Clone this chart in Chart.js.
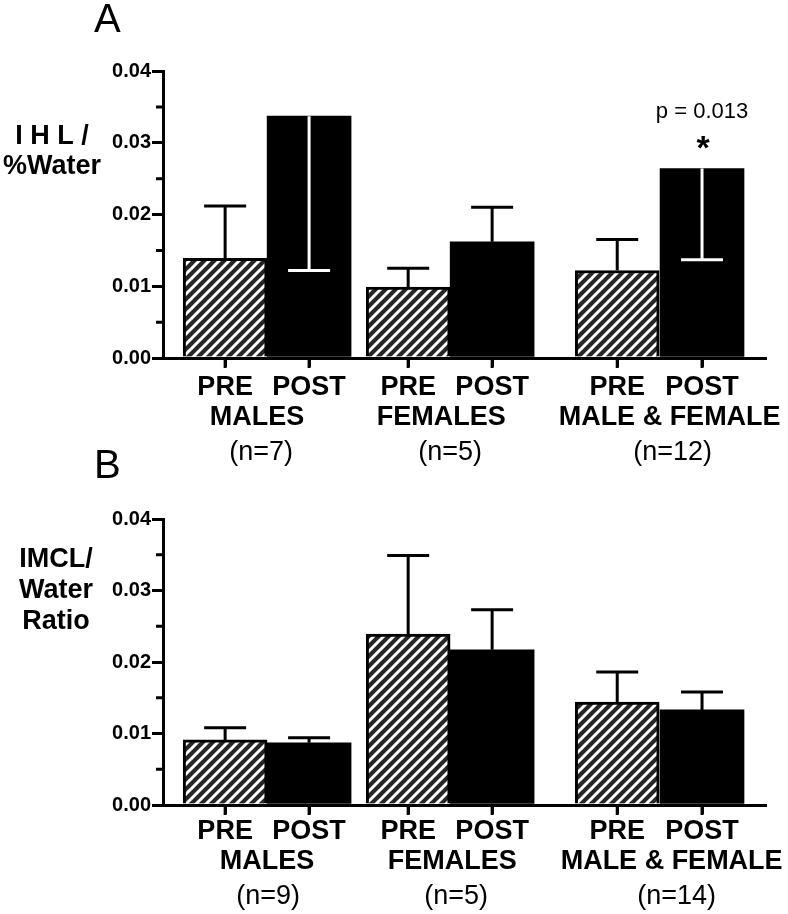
<!DOCTYPE html>
<html>
<head>
<meta charset="utf-8">
<script src="https://cdn.jsdelivr.net/npm/chart.js@4.4.0/dist/chart.umd.min.js"></script>
<style>
  body { margin: 0; background: #fff; }
  .panel { position: absolute; left: 0; width: 788px; }
  #panelA { top: 0; height: 480px; }
  #panelB { top: 440px; height: 474px; }
</style>
</head>
<body>
<div class="panel" id="panelA"><canvas id="chartA"></canvas></div>
<div class="panel" id="panelB"><canvas id="chartB"></canvas></div>
<script>
// Categories
const groups = ['MALES', 'FEMALES', 'MALE & FEMALE'];
const phases = ['PRE', 'POST'];

// Panel A: IHL / %Water
const nA = ['(n=7)', '(n=5)', '(n=12)'];
const preA = [0.0139, 0.0099, 0.0122];
const preErrA = [0.0073, 0.0026, 0.0043];
const postA = [0.0337, 0.0162, 0.0264];
const postErrA = [0.0215, 0.0048, 0.0127];
const postErrDirA = ['down', 'up', 'down'];

// Panel B: IMCL / Water ratio
const nB = ['(n=9)', '(n=5)', '(n=14)'];
const preB = [0.0091, 0.0239, 0.0144];
const preErrB = [0.0017, 0.0110, 0.0042];
const postB = [0.0087, 0.0217, 0.0133];
const postErrB = [0.0007, 0.0056, 0.0025];

// y axis ticks
const yTicks = [0, 0.01, 0.02, 0.03, 0.04];
const yMinorTicks = [0.005, 0.015, 0.025, 0.035];

// layout: bar slots on the x axis (1 unit = one bar width)
const slotPre = [0, 2.18, 4.67];
const slotPost = [1, 3.18, 5.68];
const slots = [0, 1, 2.18, 3.18, 4.67, 5.68];
const FONT = '"Liberation Sans", Arial, Helvetica, sans-serif';

function makeHatch(ctx) {
    const tile = document.createElement('canvas');
    tile.width = 10;
    tile.height = 10;
    const g = tile.getContext('2d');
    g.fillStyle = '#262626';
    g.fillRect(0, 0, 10, 10);
    g.strokeStyle = '#fff';
    g.lineWidth = 3;
    g.beginPath();
    g.moveTo(0, 10); g.lineTo(10, 0);
    g.moveTo(-5, 5); g.lineTo(5, -5);
    g.moveTo(5, 15); g.lineTo(15, 5);
    g.stroke();
    return ctx.createPattern(tile, 'repeat');
}

// Error bars (white ones point down into the black bars)
const errorBars = {
    id: 'errorBars',
    afterDatasetsDraw(chart) {
        const ctx = chart.ctx;
        const y = chart.scales.y;
        chart.data.datasets.forEach((ds, di) => {
            const meta = chart.getDatasetMeta(di);
            meta.data.forEach((bar, i) => {
                const v = ds.data[i].y;
                const down = ds.errDir[i] === 'down';
                const yTop = y.getPixelForValue(v);
                const yEnd = y.getPixelForValue(down ? v - ds.err[i] : v + ds.err[i]);
                const half = bar.width / 4;
                ctx.save();
                ctx.strokeStyle = down ? '#fff' : '#000';
                ctx.lineWidth = 3;
                ctx.beginPath();
                ctx.moveTo(bar.x, yTop);
                ctx.lineTo(bar.x, yEnd);
                ctx.moveTo(bar.x - half, yEnd);
                ctx.lineTo(bar.x + half, yEnd);
                ctx.stroke();
                ctx.restore();
            });
        });
    }
};

// Group names, n, ticks, axis title, panel letter, p value
const extraText = {
    id: 'extraText',
    afterDraw(chart) {
        const cfg = chart.options.plugins.extraText;
        const ctx = chart.ctx;
        const x = chart.scales.x;
        const y = chart.scales.y;
        ctx.save();
        ctx.fillStyle = '#000';
        ctx.textAlign = 'center';
        ctx.textBaseline = 'middle';
        groups.forEach((g, i) => {
            const cx = (x.getPixelForValue(slotPre[i]) + x.getPixelForValue(slotPost[i])) / 2;
            ctx.font = 'bold 27px ' + FONT;
            ctx.fillText(g, cx + cfg.groupShift[i], x.top + cfg.groupDy);
            ctx.font = '27px ' + FONT;
            ctx.fillText(cfg.n[i], cx + cfg.nShift[i], x.top + cfg.nDy);
        });

        ctx.strokeStyle = '#000';
        ctx.lineWidth = 3;
        ctx.beginPath();
        // minor y ticks
        yMinorTicks.forEach(v => {
            const py = y.getPixelForValue(v);
            ctx.moveTo(y.right - 7, py);
            ctx.lineTo(y.right, py);
        });
        // x tick marks under each bar
        slots.forEach(v => {
            const px = x.getPixelForValue(v);
            ctx.moveTo(px, x.top);
            ctx.lineTo(px, x.top + 10);
        });
        ctx.stroke();

        // y title
        ctx.font = 'bold 27px ' + FONT;
        cfg.title.forEach((t, i) => ctx.fillText(t, cfg.titleX, cfg.titleY[i]));

        // panel letter
        ctx.textAlign = 'left';
        ctx.textBaseline = 'alphabetic';
        ctx.font = '40px ' + FONT;
        ctx.fillText(cfg.letter, 94, cfg.letterY);

        if (cfg.note) {
            const i = cfg.note.index;
            const bx = x.getPixelForValue(slotPost[i]);
            const top = y.getPixelForValue(cfg.post[i]);
            ctx.textAlign = 'center';
            ctx.font = '22px ' + FONT;
            ctx.textBaseline = 'middle';
            ctx.fillText(cfg.note.text, bx, top - 57);
            ctx.font = 'bold 34px ' + FONT;
            ctx.textBaseline = 'alphabetic';
            ctx.fillText('*', bx + 1, top - 10);
        }
        ctx.restore();
    }
};

function makeChart(id, cfg) {
    const canvas = document.getElementById(id);
    const hatch = makeHatch(canvas.getContext('2d'));
    return new Chart(canvas, {
        type: 'bar',
        data: {
            datasets: [{
                label: 'PRE',
                data: cfg.pre.map((v, i) => ({ x: slotPre[i], y: v })),
                backgroundColor: hatch,
                borderColor: '#000',
                borderWidth: 3,
                err: cfg.preErr,
                errDir: ['up', 'up', 'up']
            }, {
                label: 'POST',
                data: cfg.post.map((v, i) => ({ x: slotPost[i], y: v })),
                backgroundColor: '#000',
                borderWidth: 0,
                err: cfg.postErr,
                errDir: cfg.postErrDir
            }]
        },
        options: {
            responsive: true,
            maintainAspectRatio: false,
            animation: false,
            layout: { padding: { top: cfg.top, right: 23, left: 0, bottom: 0 } },
            datasets: {
                bar: { grouped: false, categoryPercentage: 1, barPercentage: 1 }
            },
            plugins: {
                legend: { display: false },
                tooltip: { enabled: false },
                extraText: cfg
            },
            scales: {
                x: {
                    type: 'linear',
                    min: -0.74,
                    max: 6.43,
                    offset: false,
                    z: 1,
                    afterBuildTicks: s => { s.ticks = slots.map(v => ({ value: v })); },
                    afterFit: s => { s.height = cfg.xHeight; },
                    ticks: {
                        callback: (v, i) => phases[i % 2],
                        autoSkip: false,
                        maxRotation: 0,
                        padding: cfg.xPad,
                        color: '#000',
                        font: { family: FONT, size: 27, weight: 'bold' }
                    },
                    grid: { display: true, offset: false, drawOnChartArea: false, drawTicks: true, tickLength: 9, lineWidth: 3, color: '#000' },
                    border: { display: true, width: 3, color: '#000' }
                },
                y: {
                    min: 0,
                    max: 0.04,
                    afterBuildTicks: s => { s.ticks = yTicks.map(v => ({ value: v })); },
                    afterFit: s => { s.width = 163; },
                    ticks: {
                        callback: v => v.toFixed(2),
                        padding: 1,
                        color: '#000',
                        font: { family: FONT, size: 20, weight: 'bold' }
                    },
                    grid: { display: true, drawOnChartArea: false, drawTicks: true, tickLength: 11, lineWidth: 3, color: '#000' },
                    border: { display: true, width: 3, color: '#000' }
                }
            }
        },
        plugins: [errorBars, extraText]
    });
}

makeChart('chartA', {
    pre: preA, preErr: preErrA, post: postA, postErr: postErrA, postErrDir: postErrDirA,
    n: nA, top: 71, xHeight: 122, xPad: 4, groupDy: 60, nDy: 95,
    groupShift: [-10, -9, 10], nShift: [-6, 0, 13],
    title: ['I H L /', '%Water'], titleX: 52, titleY: [137, 167],
    letter: 'A', letterY: 32,
    note: { index: 2, text: 'p = 0.013' }
});

makeChart('chartB', {
    pre: preB, preErr: preErrB, post: postB, postErr: postErrB, postErrDir: ['up', 'up', 'up'],
    n: nB, top: 79, xHeight: 109, xPad: 1, groupDy: 57, nDy: 92,
    groupShift: [0, 2, 12], nShift: [1, 6, 17],
    title: ['IMCL/', 'Water', 'Ratio'], titleX: 56, titleY: [120, 151, 182],
    letter: 'B', letterY: 38,
    note: null
});
</script>
</body>
</html>
